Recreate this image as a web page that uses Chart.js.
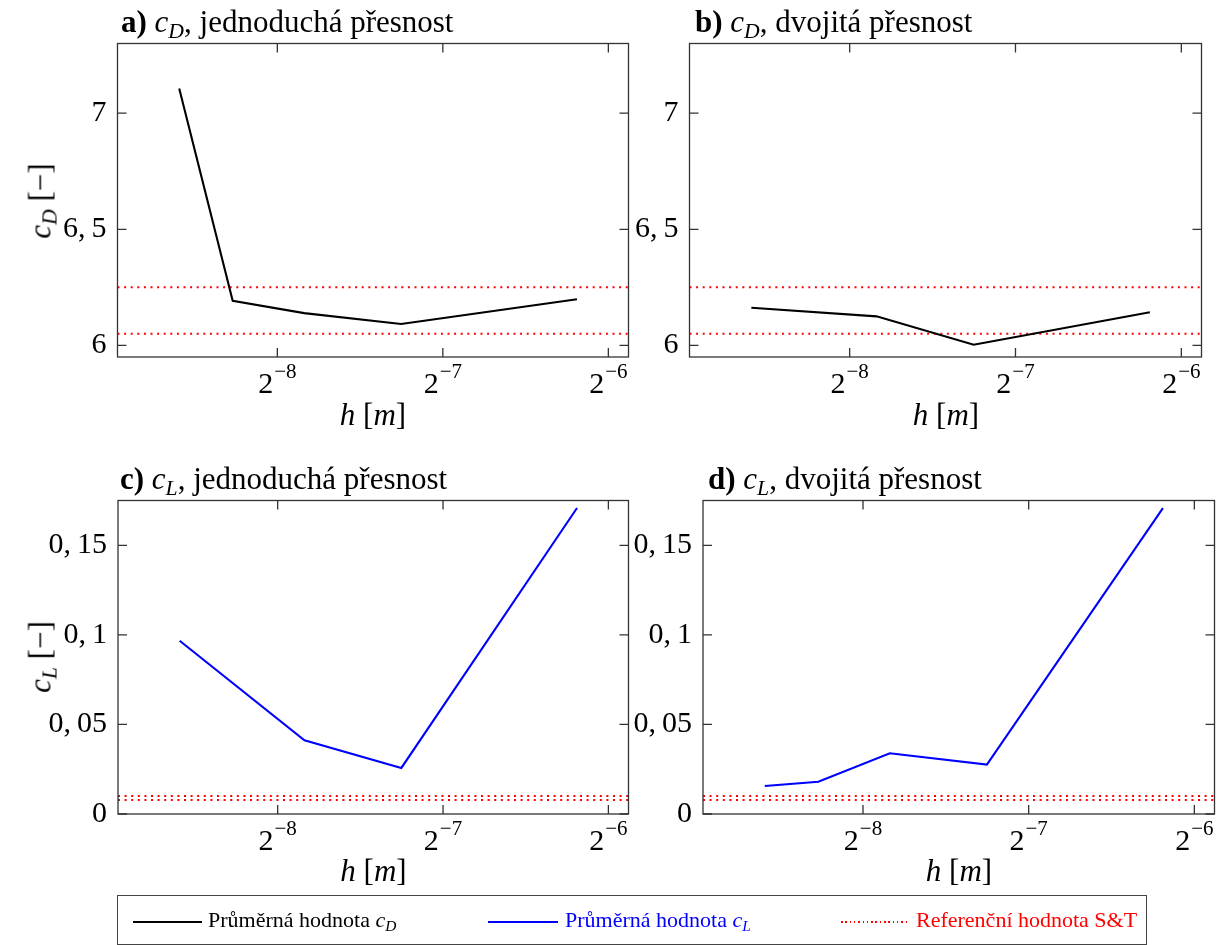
<!DOCTYPE html>
<html>
<head>
<meta charset="utf-8">
<script src="https://cdn.jsdelivr.net/npm/chart.js@4.4.1/dist/chart.umd.min.js"></script>
<style>
html,body{margin:0;padding:0;background:#fff;}
#wrap{position:relative;width:1225px;height:945px;overflow:hidden;font-family:'Liberation Serif','DejaVu Serif',serif;color:#000;}
canvas{position:absolute;left:0;top:0;}
.t{position:absolute;white-space:nowrap;line-height:1;font-size:31px;}
.xt{position:absolute;text-align:center;white-space:nowrap;line-height:1;font-size:31px;}
.yt{position:absolute;white-space:nowrap;line-height:1;font-size:31px;transform:translate(-50%,-50%) rotate(-90deg);}
.sb{font-size:70%;position:relative;top:0.28em;line-height:0;}
#legend{position:absolute;left:117px;top:895px;width:1030px;height:50px;border:1.3px solid #444;box-sizing:border-box;}
.li{position:absolute;white-space:nowrap;line-height:1;font-size:22px;top:13px;}
.ln{position:absolute;top:25px;height:2px;}
</style>
</head>
<body>
<div id="wrap">
  <canvas id="cA" width="1225" height="945"></canvas>
  <canvas id="cB" width="1225" height="945"></canvas>
  <canvas id="cC" width="1225" height="945"></canvas>
  <canvas id="cD" width="1225" height="945"></canvas>

  <div class="t" style="left:121px;top:6px;"><b>a)</b> <i>c</i><i class="sb">D</i>, jednoduchá přesnost</div>
  <div class="t" style="left:695px;top:6px;"><b>b)</b> <i>c</i><i class="sb">D</i>, dvojitá přesnost</div>
  <div class="t" style="left:120px;top:463px;"><b>c)</b> <i>c</i><i class="sb">L</i>, jednoduchá přesnost</div>
  <div class="t" style="left:708px;top:463px;"><b>d)</b> <i>c</i><i class="sb">L</i>, dvojitá přesnost</div>

  <div class="yt" style="left:40px;top:201px;"><i>c</i><i class="sb">D</i> [−]</div>
  <div class="yt" style="left:40px;top:657px;"><i>c</i><i class="sb">L</i> [−]</div>

  <div class="xt" style="left:117px;width:512px;top:399px;"><i>h</i> [<i>m</i>]</div>
  <div class="xt" style="left:690px;width:512px;top:399px;"><i>h</i> [<i>m</i>]</div>
  <div class="xt" style="left:118px;width:511px;top:855px;"><i>h</i> [<i>m</i>]</div>
  <div class="xt" style="left:703px;width:512px;top:855px;"><i>h</i> [<i>m</i>]</div>

  <div id="legend">
    <div class="ln" style="left:15px;width:69px;background:#000;"></div>
    <div class="li" style="left:90px;">Průměrná hodnota <i>c</i><i class="sb">D</i></div>
    <div class="ln" style="left:370px;width:70px;background:#0000ff;"></div>
    <div class="li" style="left:447px;color:#0000ff;">Průměrná hodnota <i>c</i><i class="sb">L</i></div>
    <div class="ln" style="left:723px;width:68px;height:1.5px;background:repeating-linear-gradient(90deg,#ff0000 0 1.5px,transparent 1.5px 4.3px);"></div>
    <div class="li" style="left:798px;color:#ff0000;">Referenční hodnota S&amp;T</div>
  </div>
</div>
<script>
// ---- data ----
const hA = [0.00259, 0.00324, 0.00437, 0.00656, 0.0137];
const cdSingle = [7.106, 6.192, 6.139, 6.092, 6.199];
const hB = [0.00259, 0.00437, 0.00656, 0.0137];
const cdDouble = [6.162, 6.125, 6.003, 6.143];
const hC = [0.00259, 0.00437, 0.00656, 0.0137];
const clSingle = [0.0967, 0.0411, 0.0257, 0.1708];
const hD = [0.00259, 0.00324, 0.00437, 0.00656, 0.0137];
const clDouble = [0.0156, 0.0180, 0.0339, 0.0276, 0.1707];
const cdRef = [6.05, 6.25];
const clRef = [0.0078, 0.0100];

const xMin = 0.002, xMax = 0.017;
const xTickExps = [-8, -7, -6];
const xTickLabels = ['2^−8', '2^−7', '2^−6'];
const cdTicks = [6, 6.5, 7];
const cdTickLabels = ['6', '6,\u20095', '7'];
const clTicks = [0, 0.05, 0.1, 0.15];
const clTickLabels = ['0', '0,\u200905', '0,\u20091', '0,\u200915'];

const FONT = "'Liberation Serif','DejaVu Serif',serif";
const W = 1225, H = 945, XH = 60;
const TICK_FS = 30, SUP_FS = 21;

const frame = {
  id: 'frame',
  afterDraw(chart) {
    const {ctx, chartArea: a, scales: {x, y}} = chart;
    ctx.save();
    ctx.strokeStyle = '#333';
    ctx.lineWidth = 1.3;
    ctx.strokeRect(a.left, a.top, a.right - a.left, a.bottom - a.top);
    ctx.beginPath();
    const L = 9;
    y.ticks.forEach(t => {
      const p = y.getPixelForValue(t.value);
      ctx.moveTo(a.left, p); ctx.lineTo(a.left + L, p);
      ctx.moveTo(a.right, p); ctx.lineTo(a.right - L, p);
    });
    x.ticks.forEach(t => {
      const p = x.getPixelForValue(t.value);
      ctx.moveTo(p, a.top); ctx.lineTo(p, a.top + L);
      ctx.moveTo(p, a.bottom); ctx.lineTo(p, a.bottom - L);
    });
    ctx.stroke();
    // x tick labels with true superscript exponent
    ctx.fillStyle = '#000';
    ctx.textAlign = 'left';
    ctx.textBaseline = 'alphabetic';
    x.ticks.forEach((t, i) => {
      const lab = String(t.label ?? xTickLabels[i]);
      const [base, exp] = lab.split('^');
      const p = x.getPixelForValue(t.value);
      ctx.font = TICK_FS + 'px ' + FONT;
      const w1 = ctx.measureText(base).width;
      ctx.font = SUP_FS + 'px ' + FONT;
      const w2 = ctx.measureText(exp).width;
      const left = p - (w1 + w2 + 1) / 2;
      const baseY = a.bottom + 36;
      ctx.font = TICK_FS + 'px ' + FONT;
      ctx.fillText(base, left, baseY);
      ctx.font = SUP_FS + 'px ' + FONT;
      ctx.fillText(exp, left + w1 + 1, baseY - 15);
    });
    ctx.restore();
  }
};

function build(id, area, hs, vals, color, refs, yMin, yMax, yTicks, yLabels) {
  const datasets = refs.map(v => ({
    data: [{x: xMin, y: v}, {x: xMax, y: v}],
    borderColor: '#ff0000', borderWidth: 2, borderDash: [2, 4.6], borderCapStyle: 'butt',
    pointRadius: 0, order: 2
  }));
  datasets.push({
    data: hs.map((h, i) => ({x: h, y: vals[i]})),
    borderColor: color, borderWidth: 2.1, pointRadius: 0, tension: 0, order: 1
  });
  new Chart(document.getElementById(id), {
    type: 'line',
    data: {datasets},
    options: {
      responsive: false, animation: false, events: [],
      layout: {padding: {left: 0, top: area.top, right: W - area.right, bottom: H - area.bottom - XH}},
      plugins: {legend: {display: false}, tooltip: {enabled: false}, title: {display: false}},
      scales: {
        x: {
          type: 'logarithmic', min: xMin, max: xMax,
          afterBuildTicks: s => { s.ticks = xTickExps.map(e => ({value: Math.pow(2, e)})); },
          ticks: {display: false, callback: (v, i) => xTickLabels[i], font: {family: FONT, size: TICK_FS},
                  color: '#000', padding: 8, maxRotation: 0, autoSkip: false},
          grid: {display: false, drawTicks: false}, border: {display: false},
          afterFit: s => { s.height = XH; }
        },
        y: {
          type: 'linear', min: yMin, max: yMax,
          afterBuildTicks: s => { s.ticks = yTicks.map(v => ({value: v})); },
          ticks: {callback: (v, i) => yLabels[i], font: {family: FONT, size: TICK_FS}, color: '#000', padding: 11},
          grid: {display: false, drawTicks: false}, border: {display: false},
          afterFit: s => { s.width = area.left; }
        }
      }
    },
    plugins: [frame]
  });
}

build('cA', {left: 117.5, right: 628.5, top: 43.5, bottom: 357}, hA, cdSingle, '#000000', cdRef, 5.95, 7.3, cdTicks, cdTickLabels);
build('cB', {left: 689.5, right: 1201.5, top: 43.5, bottom: 357}, hB, cdDouble, '#000000', cdRef, 5.95, 7.3, cdTicks, cdTickLabels);
build('cC', {left: 118, right: 628.5, top: 500.5, bottom: 814}, hC, clSingle, '#0000ff', clRef, 0, 0.175, clTicks, clTickLabels);
build('cD', {left: 703, right: 1214.5, top: 500.5, bottom: 814}, hD, clDouble, '#0000ff', clRef, 0, 0.175, clTicks, clTickLabels);
</script>
</body>
</html>
